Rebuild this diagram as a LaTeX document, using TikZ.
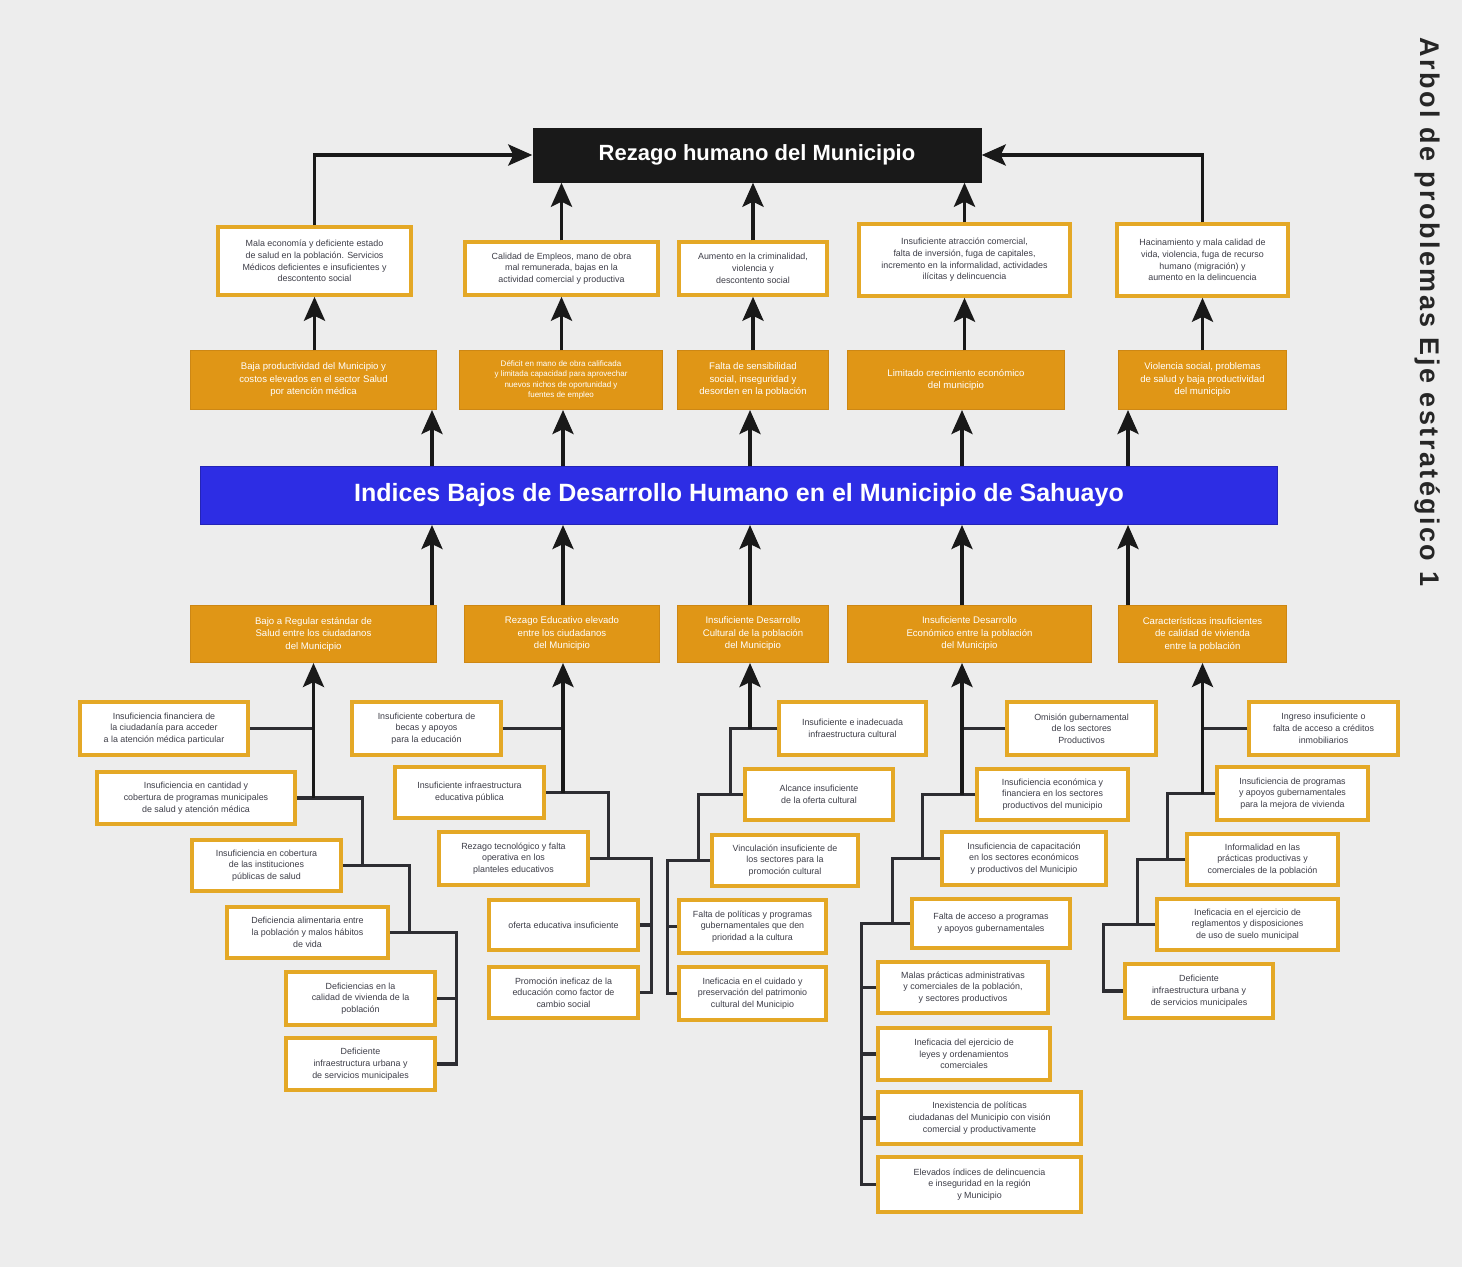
\documentclass[tikz,border=0pt]{standalone}
\usepackage{fontspec}
\setmainfont{Liberation Sans}
\usetikzlibrary{arrows.meta}
\definecolor{bggray}{RGB}{237,237,237}
\definecolor{goldline}{RGB}{228,168,38}
\definecolor{orangefill}{RGB}{224,150,22}
\definecolor{orangeline}{RGB}{205,135,20}
\definecolor{coreblue}{RGB}{45,45,228}
\definecolor{inkgray}{RGB}{62,62,72}
\definecolor{wire}{RGB}{45,45,50}
\begin{document}
\begin{tikzpicture}[x=1pt,y=-1pt,
    effect/.style={draw=goldline, line width=3.5pt, fill=white, align=center, text=inkgray,
      font=\fontsize{8.9}{11.7}\selectfont, inner sep=1pt},
    band/.style={draw=orangeline, line width=1pt, fill=orangefill, align=center, text=white,
      font=\fontsize{9.6}{12.5}\selectfont, inner sep=1pt},
    link/.style={draw=wire, line width=3.2pt},
    arr/.style={draw=black!90, line width=3.8pt, -{Stealth[length=24pt,width=21pt,inset=5pt]}}]
\useasboundingbox (0,0) rectangle (1462,1267);
\fill[bggray] (0,0) rectangle (1462,1267);

\node[rotate=-90, font=\bfseries\fontsize{27}{30}\selectfont\addfontfeatures{LetterSpace=9}, text=black!85] (title) at (1428,312) {Arbol de problemas Eje estratégico 1};

\node[fill=black!90, text=white, font=\bfseries\fontsize{22}{26}\selectfont, minimum width=449pt, minimum height=55pt] (top) at (757,155) {Rezago humano del Municipio};
\node[fill=coreblue, draw=coreblue!80!black, line width=1pt, text=white, font=\bfseries\fontsize{25}{30}\selectfont, minimum width=1077pt, minimum height=58pt] (core) at (739,495.5) {Indices Bajos de Desarrollo Humano en el Municipio de Sahuayo};

\coordinate (a1) at (432,0);
\coordinate (a2) at (563,0);
\coordinate (a3) at (750,0);
\coordinate (a4) at (962,0);
\coordinate (a5) at (1128,0);

\node[effect, minimum width=193pt, minimum height=68pt] (e1) at (314.5,261) {Mala economía y deficiente estado\\de salud en la población. Servicios\\Médicos deficientes e insuficientes y\\descontento social};
\node[effect, minimum width=193pt, minimum height=53pt] (e2) at (561.5,268.5) {Calidad de Empleos, mano de obra\\mal remunerada, bajas en la\\actividad comercial y productiva};
\node[effect, minimum width=148pt, minimum height=53pt] (e3) at (753,268.5) {Aumento en la criminalidad,\\violencia y\\descontento social};
\node[effect, minimum width=211pt, minimum height=72pt] (e4) at (964.5,260) {Insuficiente atracción comercial,\\falta de inversión, fuga de capitales,\\incremento en la informalidad, actividades\\ilícitas y delincuencia};
\node[effect, minimum width=171pt, minimum height=72pt] (e5) at (1202.5,260) {Hacinamiento y mala calidad de\\vida, violencia, fuga de recurso\\humano (migración) y\\aumento en la delincuencia};

\node[band, minimum width=246pt, minimum height=59pt] (o1) at (313.5,380) {Baja productividad del Municipio y\\costos elevados en el sector Salud\\por atención médica};
\node[band, minimum width=203pt, minimum height=59pt, font=\fontsize{8}{10.5}\selectfont] (o2) at (561,380) {Déficit en mano de obra calificada\\y limitada capacidad para aprovechar\\nuevos nichos de oportunidad y\\fuentes de empleo};
\node[band, minimum width=151pt, minimum height=59pt] (o3) at (753,380) {Falta de sensibilidad\\social, inseguridad y\\desorden en la población};
\node[band, minimum width=217pt, minimum height=59pt] (o4) at (956,380) {Limitado crecimiento económico\\del municipio};
\node[band, minimum width=168pt, minimum height=59pt] (o5) at (1202.5,380) {Violencia social, problemas\\de salud y baja productividad\\del municipio};

\node[band, minimum width=246pt, minimum height=57pt] (c1) at (313.5,634) {Bajo a Regular estándar de\\Salud entre los ciudadanos\\del Municipio};
\node[band, minimum width=195pt, minimum height=57pt] (c2) at (562,634) {Rezago Educativo elevado\\entre los ciudadanos\\del Municipio};
\node[band, minimum width=151pt, minimum height=57pt] (c3) at (753,634) {Insuficiente Desarrollo\\Cultural de la población\\del Municipio};
\node[band, minimum width=244pt, minimum height=57pt] (c4) at (969.5,634) {Insuficiente Desarrollo\\Económico entre la población\\del Municipio};
\node[band, minimum width=168pt, minimum height=57pt] (c5) at (1202.5,634) {Características insuficientes\\de calidad de vivienda\\entre la población};

\node[effect, minimum width=168pt, minimum height=53pt] (s1a) at (164,728.5) {Insuficiencia financiera de\\la ciudadanía para acceder\\a la atención médica particular};
\node[effect, minimum width=198pt, minimum height=52pt] (s1b) at (196,798) {Insuficiencia en cantidad y\\cobertura de programas municipales\\de salud y atención médica};
\node[effect, minimum width=149pt, minimum height=51pt] (s1c) at (266.5,865.5) {Insuficiencia en cobertura\\de las instituciones\\públicas de salud};
\node[effect, minimum width=161pt, minimum height=51pt] (s1d) at (307.5,932.5) {Deficiencia alimentaria entre\\la población y malos hábitos\\de vida};
\node[effect, minimum width=149pt, minimum height=53pt] (s1e) at (360.5,998.5) {Deficiencias en la\\calidad de vivienda de la\\población};
\node[effect, minimum width=149pt, minimum height=52pt] (s1f) at (360.5,1064) {Deficiente\\infraestructura urbana y\\de servicios municipales};

\node[effect, minimum width=149pt, minimum height=53pt] (s2a) at (426.5,728.5) {Insuficiente cobertura de\\becas y apoyos\\para la educación};
\node[effect, minimum width=149pt, minimum height=51pt] (s2b) at (469.5,792.5) {Insuficiente infraestructura\\educativa pública};
\node[effect, minimum width=149pt, minimum height=53pt] (s2c) at (513.5,858.5) {Rezago tecnológico y falta\\operativa en los\\planteles educativos};
\node[effect, minimum width=149pt, minimum height=50pt] (s2d) at (563.5,925) {oferta educativa insuficiente};
\node[effect, minimum width=149pt, minimum height=51pt] (s2e) at (563.5,992.5) {Promoción ineficaz de la\\educación como factor de\\cambio social};

\node[effect, minimum width=147pt, minimum height=53pt] (s3a) at (852.5,728.5) {Insuficiente e inadecuada\\infraestructura cultural};
\node[effect, minimum width=148pt, minimum height=51pt] (s3b) at (819,794.5) {Alcance insuficiente\\de la oferta cultural};
\node[effect, minimum width=146pt, minimum height=51pt] (s3c) at (785,860.5) {Vinculación insuficiente de\\los sectores para la\\promoción cultural};
\node[effect, minimum width=147pt, minimum height=53pt] (s3d) at (752.5,926.5) {Falta de políticas y programas\\gubernamentales que den\\prioridad a la cultura};
\node[effect, minimum width=147pt, minimum height=53pt] (s3e) at (752.5,993.5) {Ineficacia en el cuidado y\\preservación del patrimonio\\cultural del Municipio};

\node[effect, minimum width=149pt, minimum height=53pt] (s4a) at (1081.5,728.5) {Omisión gubernamental\\de los sectores\\Productivos};
\node[effect, minimum width=151pt, minimum height=51pt] (s4b) at (1052.5,794.5) {Insuficiencia económica y\\financiera en los sectores\\productivos del municipio};
\node[effect, minimum width=164pt, minimum height=53pt] (s4c) at (1024,858.5) {Insuficiencia de capacitación\\en los sectores económicos\\y productivos del Municipio};
\node[effect, minimum width=158pt, minimum height=49pt] (s4d) at (991,923.5) {Falta de acceso a programas\\y apoyos gubernamentales};
\node[effect, minimum width=170pt, minimum height=51pt] (s4e) at (963,987.5) {Malas prácticas administrativas\\y comerciales de la población,\\y sectores productivos};
\node[effect, minimum width=172pt, minimum height=52pt] (s4f) at (964,1054) {Ineficacia del ejercicio de\\leyes y ordenamientos\\comerciales};
\node[effect, minimum width=203pt, minimum height=52pt] (s4g) at (979.5,1118) {Inexistencia de políticas\\ciudadanas del Municipio con visión\\comercial y productivamente};
\node[effect, minimum width=203pt, minimum height=55pt] (s4h) at (979.5,1184.5) {Elevados índices de delincuencia\\e inseguridad en la región\\y Municipio};

\node[effect, minimum width=149pt, minimum height=53pt] (s5a) at (1323.5,728.5) {Ingreso insuficiente o\\falta de acceso a créditos\\inmobiliarios};
\node[effect, minimum width=151pt, minimum height=53pt] (s5b) at (1292.5,793.5) {Insuficiencia de programas\\y apoyos gubernamentales\\para la mejora de vivienda};
\node[effect, minimum width=151pt, minimum height=51pt] (s5c) at (1262.5,859.5) {Informalidad en las\\prácticas productivas y\\comerciales de la población};
\node[effect, minimum width=181pt, minimum height=51pt] (s5d) at (1247.5,924.5) {Ineficacia en el ejercicio de\\reglamentos y disposiciones\\de uso de suelo municipal};
\node[effect, minimum width=148pt, minimum height=54pt] (s5e) at (1199,991) {Deficiente\\infraestructura urbana y\\de servicios municipales};

\draw[arr] (e1.north) |- (top.west);
\draw[arr] (e5.north) |- (top.east);
\draw[arr] (e2.north) -- (e2.north |- top.south);
\draw[arr] (e3.north) -- (e3.north |- top.south);
\draw[arr] (e4.north) -- (e4.north |- top.south);

\foreach \n in {1,...,5}
  \draw[arr] (o\n.north -| e\n.south) -- (e\n.south);
\foreach \n in {1,...,5} {
  \draw[arr] (core.north -| a\n) -- (o\n.south -| a\n);
  \draw[arr] (c\n.north -| a\n) -- (core.south -| a\n);
}

\draw[link] (s1a.east) -- (s1a.east -| c1.south);
\draw[link] (s1b.east) -- ++(66,0) |- (s1c.east);
\draw[link] (s1c.east) -- ++(67,0) |- (s1d.east);
\draw[link] (s1d.east) -- ++(67,0) |- (s1f.east);
\draw[link] (s1e.east) -- +(20,0);
\draw[arr] (s1b.east -| c1.south) -- (c1.south);

\draw[link] (s2a.east) -- (s2a.east -| a2);
\draw[link] (s2b.east) -- ++(63,0) |- (s2c.east);
\draw[link] (s2c.east) -- ++(62,0) |- (s2e.east);
\draw[link] (s2d.east) -- +(12,0);
\draw[arr] (s2b.east -| a2) -- (c2.south -| a2);

\draw[link] (s3a.west) -- ++(-47,0) |- (s3b.west);
\draw[link] (s3b.west) -- ++(-45,0) |- (s3c.west);
\draw[link] (s3c.west) -- ++(-43,0) |- (s3e.west);
\draw[link] (s3d.west) -- +(-10,0);
\draw[arr] (s3a.west -| a3) -- (c3.south -| a3);

\draw[link] (s4a.west) -- (s4a.west -| a4);
\draw[link] (s4b.west) -- ++(-53,0) |- (s4c.west);
\draw[link] (s4c.west) -- ++(-48,0) |- (s4d.west);
\draw[link] (s4d.west) -- ++(-49,0) |- (s4h.west);
\foreach \m in {e,f,g}
  \draw[link] (s4\m.west) -- +(-15,0);
\draw[arr] (s4b.west -| a4) -- (c4.south -| a4);

\draw[link] (s5a.west) -- (s5a.west -| c5.south);
\draw[link] (s5b.west) -- ++(-48,0) |- (s5c.west);
\draw[link] (s5c.west) -- ++(-48,0) |- (s5d.west);
\draw[link] (s5d.west) -- ++(-52,0) |- (s5e.west);
\draw[arr] (s5b.west -| c5.south) -- (c5.south);
\end{tikzpicture}
\end{document}
